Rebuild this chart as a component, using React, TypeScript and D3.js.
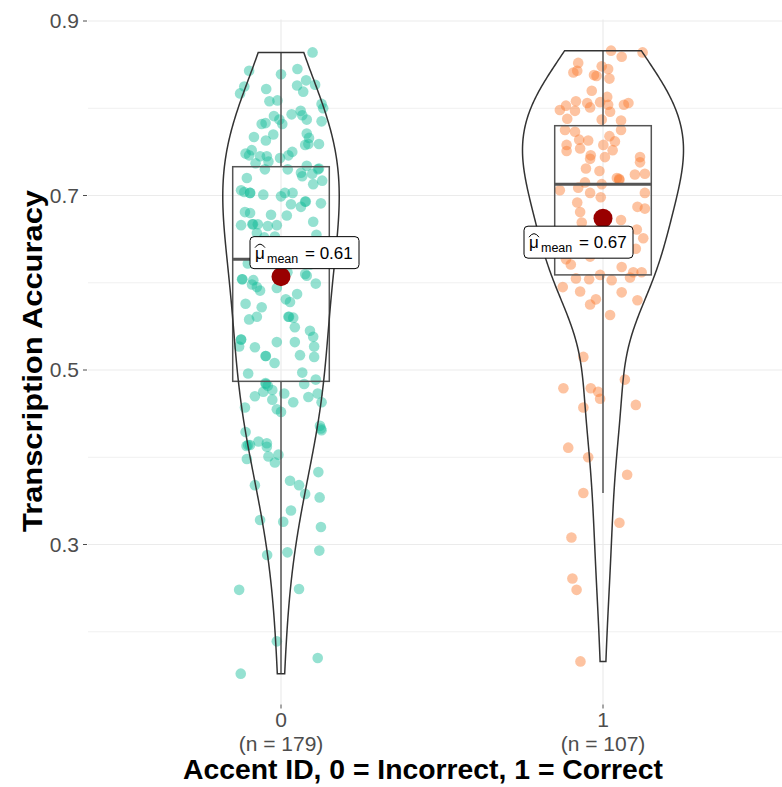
import React from "react";
import * as d3 from "d3";

// ---------- data ----------
const categories = ["0", "1"];
const counts = [179, 107];
const yTicks = [0.3, 0.5, 0.7, 0.9];
const yMinorTicks = [0.2, 0.4, 0.6, 0.8];

const values0 = [
  0.864, 0.843, 0.839, 0.845, 0.825, 0.817, 0.822, 0.826, 0.832, 0.827, 0.819, 0.805, 0.8, 0.808, 0.809, 0.791,
  0.787, 0.782, 0.793, 0.797, 0.792, 0.787, 0.785, 0.782, 0.783, 0.77, 0.767, 0.763, 0.771, 0.766, 0.758, 0.759,
  0.759, 0.752, 0.748, 0.746, 0.745, 0.745, 0.743, 0.746, 0.75, 0.737, 0.739, 0.73, 0.73, 0.734, 0.731, 0.726,
  0.722, 0.725, 0.713, 0.717, 0.72, 0.706, 0.704, 0.703, 0.701, 0.699, 0.703, 0.703, 0.691, 0.693, 0.687, 0.69,
  0.681, 0.68, 0.678, 0.677, 0.666, 0.667, 0.667, 0.665, 0.666, 0.67, 0.657, 0.652, 0.653, 0.622, 0.604, 0.603,
  0.595, 0.591, 0.594, 0.61, 0.608, 0.599, 0.581, 0.578, 0.576, 0.561, 0.56, 0.558, 0.561, 0.549, 0.538, 0.535,
  0.527, 0.526, 0.532, 0.532, 0.527, 0.516, 0.517, 0.515, 0.496, 0.497, 0.489, 0.485, 0.482, 0.484, 0.47, 0.475,
  0.477, 0.473, 0.469, 0.473, 0.463, 0.457, 0.466, 0.463, 0.455, 0.452, 0.436, 0.431, 0.429, 0.413, 0.414, 0.418,
  0.416, 0.412, 0.401, 0.403, 0.394, 0.398, 0.383, 0.373, 0.368, 0.368, 0.358, 0.354, 0.339, 0.328, 0.326, 0.32,
  0.288, 0.291, 0.293, 0.248, 0.249, 0.189, 0.17, 0.152, 0.638, 0.64, 0.631, 0.646, 0.615,
  0.612, 0.632, 0.73, 0.641, 0.605, 0.621, 0.587, 0.703, 0.561, 0.535, 0.484, 0.414, 0.433, 0.516, 0.667, 0.693,
  0.572, 0.655, 0.604, 0.545, 0.508, 0.598,
];
const jitter0 = [
  0.098, -0.099, 0.0, 0.051, -0.114, -0.127, -0.046, 0.05, 0.078, 0.106, 0.069, 0.126, 0.131, -0.036, -0.011, -0.022,
  -0.005, 0.004, 0.033, 0.061, 0.066, 0.08, 0.126, -0.06, -0.048, -0.024, -0.084, -0.047, 0.08, 0.087, 0.075, 0.085,
  0.118, -0.091, -0.11, -0.099, -0.065, -0.044, -0.003, 0.023, 0.035, -0.079, -0.039, -0.05, 0.021, 0.08, 0.118, 0.062,
  0.066, 0.097, 0.1, 0.128, -0.106, -0.124, -0.114, -0.096, -0.055, 0.0, 0.012, 0.036, 0.124, 0.077, 0.062, 0.031,
  -0.112, -0.096, -0.031, 0.018, -0.124, -0.089, -0.072, -0.041, -0.013, 0.1, -0.075, -0.052, -0.019, -0.103, -0.12, -0.086,
  -0.075, -0.065, -0.013, 0.075, 0.08, 0.108, 0.015, 0.028, -0.11, 0.023, 0.038, -0.099, -0.075, 0.043, 0.1, -0.124,
  -0.13, -0.081, -0.013, 0.043, 0.103, -0.048, 0.059, 0.103, -0.102, 0.066, 0.108, -0.048, -0.041, 0.072, -0.081, -0.055,
  -0.027, 0.01, 0.085, 0.114, 0.126, -0.112, -0.027, 0.038, -0.013, 0.0, 0.121, 0.126, -0.11, -0.107, -0.096, -0.07,
  -0.044, -0.044, -0.039, -0.008, -0.019, -0.106, 0.116, 0.028, 0.056, -0.081, 0.075, 0.12, 0.031, -0.065, 0.007, 0.124,
  -0.043, 0.02, 0.119, -0.13, 0.056, -0.013, 0.114, -0.125, -0.028, 0.059, -0.059, 0.121, 0.0,
  0.02, 0.085, 0.115, 0.045, -0.01, 0.09, 0.05, -0.096, 0.025, -0.124, -0.047, -0.102, 0.124, -0.047, -0.087, 0.075,
  -0.06, 0.11, -0.121, 0.09, -0.02, -0.09,
];

const values1 = [
  0.866, 0.859, 0.864, 0.852, 0.841, 0.843, 0.848, 0.845, 0.838, 0.837, 0.834, 0.82, 0.813, 0.808, 0.803, 0.798,
  0.797, 0.806, 0.801, 0.807, 0.804, 0.796, 0.804, 0.806, 0.788, 0.787, 0.786, 0.775, 0.773, 0.775, 0.768, 0.762,
  0.764, 0.763, 0.758, 0.751, 0.754, 0.758, 0.752, 0.746, 0.742, 0.744, 0.731, 0.728, 0.744, 0.738, 0.724, 0.725,
  0.72, 0.718, 0.715, 0.713, 0.706, 0.709, 0.703, 0.698, 0.703, 0.692, 0.687, 0.685, 0.681, 0.661, 0.651, 0.669,
  0.621, 0.63, 0.618, 0.612, 0.612, 0.605, 0.604, 0.609, 0.603, 0.606, 0.595, 0.589, 0.581, 0.58, 0.563, 0.515,
  0.489, 0.479, 0.479, 0.475, 0.467, 0.457, 0.46, 0.639, 0.649, 0.643, 0.654, 0.411, 0.4, 0.38, 0.359, 0.325,
  0.308, 0.261, 0.248, 0.166, 0.59, 0.672, 0.575, 0.627, 0.719, 0.66, 0.635,
];
const jitter1 = [
  0.025, 0.058, 0.123, -0.077, -0.092, -0.08, -0.004, 0.016, -0.028, -0.02, 0.02, -0.035, 0.013, -0.084, -0.115, -0.134,
  -0.087, -0.049, -0.04, -0.009, 0.016, 0.022, 0.065, 0.079, -0.111, -0.004, 0.056, -0.118, -0.087, 0.056, 0.02, 0.037,
  -0.074, -0.046, -0.113, -0.113, -0.071, 0.001, 0.03, -0.038, -0.04, 0.006, -0.053, -0.011, 0.115, 0.115, 0.099, 0.13,
  0.043, 0.051, -0.056, -0.004, -0.134, -0.077, -0.04, -0.007, 0.13, -0.08, 0.107, 0.13, -0.071, 0.105, 0.125, -0.066,
  -0.1, -0.04, 0.058, 0.094, 0.12, -0.084, -0.043, -0.009, 0.027, 0.084, -0.125, 0.058, -0.022, 0.107, 0.022, -0.061,
  0.068, -0.123, -0.038, -0.015, -0.009, -0.061, 0.102, 0.102, -0.118, -0.009, 0.037, -0.108, -0.046, 0.075, -0.061, 0.051,
  -0.098, -0.095, -0.082, -0.07, -0.071, 0.056, -0.04, -0.115, 0.05, -0.019, 0.019,
];

// box statistics and means
const boxQ1 = [0.487, 0.609];
const boxMedian = [0.627, 0.713];
const boxQ3 = [0.733, 0.78];
const whiskerLow = [0.152, 0.359];
const whiskerHigh = [0.864, 0.866];
const means = [0.607, 0.674];

const groupValues = [values0, values1];
const groupJitter = [jitter0, jitter1];
const colors = ["#13BC98", "#FA7A2E"];

// ---------- layout ----------
const W = 782;
const H = 787;
const panel = { left: 88, right: 782, top: 19.5, bottom: 704.5 };
const labelOffsets = [
  { dx: -31, dy: -40 },
  { dx: -79, dy: 8 },
];
const labelW = 109;
const labelH = 32;
const bwAdjust = [1.5, 1.25];

function kde(values: number[], adjust: number) {
  const n = values.length;
  const sd = d3.deviation(values) as number;
  const sorted = [...values].sort(d3.ascending);
  const iqr = (d3.quantile(sorted, 0.75) as number) - (d3.quantile(sorted, 0.25) as number);
  const bw = adjust * 0.9 * Math.min(sd, iqr / 1.34) * Math.pow(n, -0.2);
  const lo = sorted[0];
  const hi = sorted[n - 1];
  const pts: [number, number][] = [];
  const m = 256;
  for (let i = 0; i <= m; i++) {
    const v = lo + ((hi - lo) * i) / m;
    let s = 0;
    for (const xv of values) {
      const u = (v - xv) / bw;
      s += Math.exp(-0.5 * u * u);
    }
    pts.push([v, s / (n * bw * Math.sqrt(2 * Math.PI))]);
  }
  return pts;
}

export default function App() {
  const x = d3.scalePoint<string>().domain(categories).range([281, 603]);
  const y = d3.scaleLinear().domain([0.1, 0.9]).range([719, 21]);
  const unit = (x(categories[1]) as number) - (x(categories[0]) as number);

  const dens = groupValues.map((v, g) => kde(v, bwAdjust[g]));
  const maxD = d3.max(dens.flat(), (d) => d[1]) as number;
  const violinHalf = 0.25 * unit;
  const boxHalf = 0.15 * unit;

  const font = "'Liberation Sans', Arial, sans-serif";
  const titleFont = "'Liberation Sans Narrow', 'Arial Narrow', 'Liberation Sans', Arial, sans-serif";

  return (
    <svg width={W} height={H} style={{ position: "absolute", left: 0, top: 0, background: "#fff" }}>
      {/* grid */}
      {yMinorTicks.map((t) => (
        <line key={"mn" + t} x1={panel.left} x2={panel.right} y1={y(t)} y2={y(t)} stroke="#F0F0F0" strokeWidth={1} />
      ))}
      {yTicks.map((t) => (
        <line key={"mj" + t} x1={panel.left} x2={panel.right} y1={y(t)} y2={y(t)} stroke="#EBEBEB" strokeWidth={1.2} />
      ))}
      {categories.map((c) => (
        <line key={"vg" + c} x1={x(c)} x2={x(c)} y1={panel.top} y2={panel.bottom} stroke="#EBEBEB" strokeWidth={1.2} />
      ))}

      {/* y axis */}
      {yTicks.map((t) => (
        <g key={"yt" + t}>
          <line x1={panel.left - 5} x2={panel.left - 1} y1={y(t)} y2={y(t)} stroke="#4D4D4D" strokeWidth={1} />
          <text x={panel.left - 9} y={y(t)} dy="0.35em" textAnchor="end" fontFamily={font} fontSize={21} fill="#4D4D4D">
            {t.toFixed(1)}
          </text>
        </g>
      ))}

      {/* x axis */}
      {categories.map((c, i) => (
        <g key={"xt" + c}>
          <line x1={x(c)} x2={x(c)} y1={panel.bottom} y2={panel.bottom + 4} stroke="#4D4D4D" strokeWidth={1} />
          <text x={x(c)} y={727} textAnchor="middle" fontFamily={font} fontSize={21} fill="#4D4D4D">
            {c}
          </text>
          <text x={x(c)} y={751} textAnchor="middle" fontFamily={font} fontSize={21} fill="#4D4D4D">
            {`(n = ${counts[i]})`}
          </text>
        </g>
      ))}

      {/* points */}
      {groupValues.map((vals, g) =>
        vals.map((v, i) => (
          <circle
            key={`p${g}-${i}`}
            cx={(x(categories[g]) as number) + groupJitter[g][i] * unit}
            cy={y(v)}
            r={5.3}
            fill={colors[g]}
            fillOpacity={0.45}
          />
        ))
      )}

      {/* boxes */}
      {categories.map((c, g) => {
        const cx = x(c) as number;
        return (
          <g key={"box" + c} stroke="#555555" fill="none">
            <line x1={cx} x2={cx} y1={y(boxQ3[g])} y2={y(whiskerHigh[g])} strokeWidth={1.5} />
            <line x1={cx} x2={cx} y1={y(boxQ1[g])} y2={y(whiskerLow[g])} strokeWidth={1.5} />
            <rect x={cx - boxHalf} y={y(boxQ3[g])} width={2 * boxHalf} height={y(boxQ1[g]) - y(boxQ3[g])} strokeWidth={1.5} />
            <line x1={cx - boxHalf} x2={cx + boxHalf} y1={y(boxMedian[g])} y2={y(boxMedian[g])} strokeWidth={3} />
          </g>
        );
      })}

      {/* violins */}
      {categories.map((c, g) => {
        const cx = x(c) as number;
        const pts = dens[g];
        const right = pts.map((d) => [cx + (d[1] / maxD) * violinHalf, y(d[0])]);
        const left = pts.map((d) => [cx - (d[1] / maxD) * violinHalf, y(d[0])]).reverse();
        const path = "M" + [...right, ...left].map((p) => p.join(",")).join("L") + "Z";
        return <path key={"v" + c} d={path} fill="none" stroke="#333333" strokeWidth={1.5} />;
      })}

      {/* means */}
      {categories.map((c, g) => (
        <circle key={"m" + c} cx={x(c)} cy={y(means[g])} r={9.5} fill="#990000" />
      ))}

      {/* mean labels */}
      {categories.map((c, g) => {
        const L = (x(c) as number) + labelOffsets[g].dx;
        const T = y(means[g]) + labelOffsets[g].dy;
        return (
          <g key={"lab" + c}>
            <rect x={L} y={T} width={labelW} height={labelH} rx={4} fill="#fff" stroke="#000" strokeWidth={1} />
            <path d={`M${L + 5},${T + 11} Q${L + 10},${T + 4} ${L + 15},${T + 11}`} fill="none" stroke="#000" strokeWidth={1} />
            <text x={L + 5} y={T + 22} fontFamily={font} fontSize={17} fill="#000">
              μ
            </text>
            <text x={L + 17} y={T + 26} fontFamily={font} fontSize={12.5} fill="#000">
              mean
            </text>
            <text x={L + 55} y={T + 22} fontFamily={font} fontSize={17} fill="#000">
              {`= ${means[g].toFixed(2)}`}
            </text>
          </g>
        );
      })}

      {/* titles */}
      <text
        x={423}
        y={779}
        textAnchor="middle"
        fontFamily={titleFont}
        fontWeight="bold"
        fontSize={28}
        textLength={480}
        lengthAdjust="spacingAndGlyphs"
        fill="#000"
      >
        Accent ID, 0 = Incorrect, 1 = Correct
      </text>
      <text
        transform="translate(42,361) rotate(-90)"
        textAnchor="middle"
        fontFamily={titleFont}
        fontWeight="bold"
        fontSize={28}
        textLength={342}
        lengthAdjust="spacingAndGlyphs"
        fill="#000"
      >
        Transcription Accuracy
      </text>
    </svg>
  );
}
